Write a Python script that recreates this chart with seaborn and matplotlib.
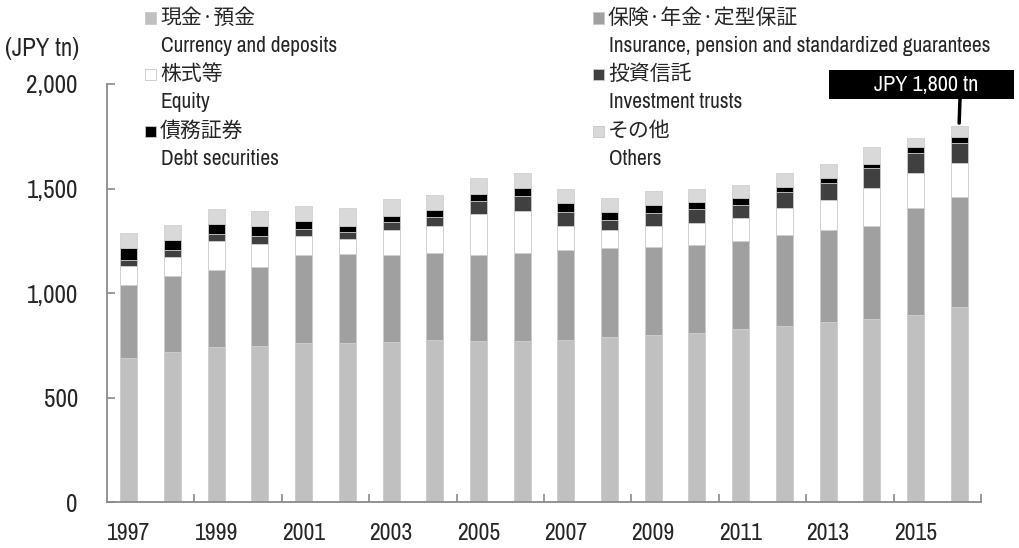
import numpy as np
import pandas as pd
import seaborn as sns
import matplotlib
matplotlib.use('Agg')
import matplotlib.pyplot as plt
from matplotlib.patches import Rectangle
from matplotlib.ticker import FuncFormatter

years = list(range(1997, 2017))

# JPY tn
currency = [690, 719, 740, 748, 761, 761, 766, 775, 772, 772,
            777, 789, 799, 809, 829, 844, 860, 877, 896, 933]
insurance = [350, 362, 370, 378, 421, 426, 417, 416, 411, 419,
             429, 426, 421, 422, 421, 434, 441, 445, 512, 526]
equity = [90, 93, 137, 108, 91, 73, 120, 131, 197, 200,
          115, 85, 101, 104, 109, 129, 143, 179, 166, 163]
inv_trusts = [27, 30, 35, 37, 32, 33, 38, 42, 60, 73,
              68, 51, 60, 65, 62, 75, 81, 97, 97, 97]
debt = [59, 51, 48, 48, 39, 29, 27, 33, 35, 38,
        42, 38, 40, 35, 34, 27, 24, 19, 26, 26]
others = [70, 69, 70, 72, 71, 83, 80, 72, 75, 74,
          65, 64, 65, 63, 62, 67, 70, 80, 43, 53]

labels_jp = ['現金·預金', '保険·年金·定型保証', '株式等', '投資信託', '債務証券', 'その他']
labels_en = ['Currency and deposits', 'Insurance, pension and standardized guarantees',
             'Equity', 'Investment trusts', 'Debt securities', 'Others']
colors = ['#c0c0c0', '#a0a0a0', '#ffffff', '#404040', '#000000', '#d9d9d9']

series = [currency, insurance, equity, inv_trusts, debt, others]

sns.set_style('white')
plt.rcParams['font.family'] = ['Liberation Sans Narrow', 'Archivo Narrow', 'Liberation Sans',
                               'Noto Sans CJK JP']
JP = ['Noto Sans CJK JP', 'DejaVu Sans']

W, H = 1020, 548
fig = plt.figure(figsize=(W / 100, H / 100), dpi=100)
ax = fig.add_axes([107 / W, 1 - 502 / H, (981 - 107) / W, (502 - 84) / H])

df = pd.DataFrame({'year': [str(y) for y in years]})
cum = np.cumsum(np.array(series), axis=0)
# stacked bars: draw cumulative totals from the top layer down
for i in range(len(series) - 1, -1, -1):
    df['v'] = cum[i]
    sns.barplot(data=df, x='year', y='v', color=colors[i], saturation=1,
                width=0.39, edgecolor='#d0d0d0', linewidth=0.6, ax=ax)

ax.set_xlim(-0.5, len(years) - 0.5)
ax.set_ylim(0, 2000)
ax.set_xlabel('')
ax.set_ylabel('')
for s in ['top', 'right']:
    ax.spines[s].set_visible(False)
for s in ['left', 'bottom']:
    ax.spines[s].set_color('#8a8a8a')
    ax.spines[s].set_linewidth(1.3)

ax.set_yticks([0, 500, 1000, 1500, 2000])
ax.yaxis.set_major_formatter(FuncFormatter(lambda v, p: f'{int(v):,}'))
ax.tick_params(axis='y', direction='in', length=6, width=1.2, color='#8a8a8a',
               pad=21, labelsize=18, left=True)

ax.set_xticks(range(0, len(years), 2))
ax.set_xticklabels([str(y) for y in years[::2]])
ax.set_xticks(np.arange(1.5, len(years), 2), minor=True)
ax.tick_params(axis='x', which='major', length=0, pad=15, labelsize=17)
ax.tick_params(axis='x', which='minor', direction='in', length=6, width=1.2,
               color='#8a8a8a', bottom=True)

fig.text(5 / W, 1 - 48 / H, '(JPY tn)', fontsize=18, va='center', ha='left')

# legend, two columns of three
col_x = [145, 593]
row_y = [18, 74, 131]
for k in range(6):
    cx = col_x[k % 2]
    ry = row_y[k // 2]
    fig.patches.append(Rectangle((cx / W, 1 - (ry + 5.5) / H), 11 / W, 11 / H,
                                 transform=fig.transFigure, facecolor=colors[k],
                                 edgecolor='#c8c8c8', linewidth=0.6))
    fig.text((cx + 15) / W, 1 - ry / H, labels_jp[k], family=JP, fontsize=15,
             va='center', ha='left')
    fig.text((cx + 16) / W, 1 - (ry + 28) / H, labels_en[k], fontsize=15.4,
             va='center', ha='left')

# callout for the latest total
fig.patches.append(Rectangle((829 / W, 1 - 99 / H), (1014 - 829) / W, 29 / H,
                             transform=fig.transFigure, facecolor='black',
                             edgecolor='none'))
fig.text(926 / W, 1 - 85 / H, 'JPY 1,800 tn', color='white', fontsize=16,
         ha='center', va='center')
ax.annotate('', xy=(len(years) - 1, cum[-1][-1] + 15), xycoords='data',
            xytext=(960 / W, 1 - 99 / H), textcoords='figure fraction',
            arrowprops=dict(arrowstyle='-', color='black', lw=2.5,
                            shrinkA=0, shrinkB=0))

fig.savefig('out.png', dpi=100)
